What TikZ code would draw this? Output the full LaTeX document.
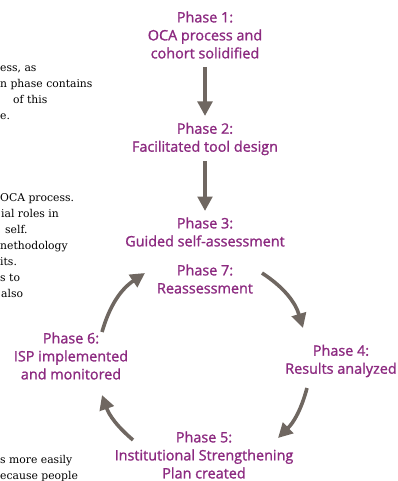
\documentclass[tikz,border=0pt]{standalone}
\usepackage{fontspec}
\setmainfont{Open Sans}
\newfontfamily\phasefont{Open Sans}[FakeBold=1.3]
\newfontfamily\bodyserif{DejaVu Serif}
\usetikzlibrary{arrows.meta}
\definecolor{phasecol}{HTML}{8C2A80}
\definecolor{arrowcol}{HTML}{6F6761}
\tikzset{
  phase/.style={text=phasecol, align=center, font=\phasefont\fontsize{14.4}{18}\selectfont, inner sep=0pt},
  body/.style={anchor=base west, inner sep=0pt, font=\bodyserif\fontsize{10.8}{16}\selectfont},
  arr/.style={draw=arrowcol, line width=3.6pt, -{Triangle[width=14.5pt,length=14.5pt]}}
}
\begin{document}
\begin{tikzpicture}[x=1pt,y=-1pt]
\useasboundingbox (0,0) rectangle (398,481);
% body text fragments
\node[body] (b1) at (0,72) {ess, as};
\node[body] (b2) at (0,88) {n phase contains};
\node[body] (b3) at (13,104) {of this};
\node[body] (b4) at (0,120) {e.};
\node[body] (b5) at (0,201) {OCA process.};
\node[body] (b6) at (1,217) {ial roles in};
\node[body] (b7) at (5,233) {self.};
\node[body] (b8) at (0,249) {nethodology};
\node[body] (b9) at (0,265) {its.};
\node[body] (b10) at (0,281) {s to};
\node[body] (b11) at (1,297) {also};
\node[body] (b12) at (0,463) {s more easily};
\node[body] (b13) at (0,479) {ecause people};
% phases
\node[phase] (p1) at (205,35) {Phase 1:\\OCA process and\\cohort solidified};
\node[phase] (p2) at (205,139) {Phase 2:\\Facilitated tool design};
\node[phase] (p3) at (205,232) {Phase 3:\\Guided self-assessment};
\node[phase] (p7) at (205,279) {Phase 7:\\Reassessment};
\node[phase] (p4) at (341,361) {Phase 4:\\Results analyzed};
\node[phase] (p5) at (204,455) {Phase 5:\\Institutional Strengthening\\Plan created};
\node[phase] (p6) at (71,356) {Phase 6:\\ISP implemented\\and monitored};
% arrow end points
\coordinate (a1s) at (205,67);
\coordinate (a1e) at (205,116);
\coordinate (a2s) at (205,161);
\coordinate (a2e) at (205,211);
\coordinate (a74s) at (262,273);
\coordinate (a74e) at (303,328);
\coordinate (a45s) at (307,388);
\coordinate (a45e) at (278,438);
\coordinate (a56s) at (133,440);
\coordinate (a56e) at (102,395);
\coordinate (a67s) at (102,332);
\coordinate (a67e) at (145,273);
% arrows
\draw[arr] (a1s) -- (a1e);
\draw[arr] (a2s) -- (a2e);
\draw[arr] (a74s) to[bend left=20] (a74e);
\draw[arr] (a45s) to[bend left=15] (a45e);
\draw[arr] (a56s) to[bend left=15] (a56e);
\draw[arr] (a67s) to[bend left=20] (a67e);
\end{tikzpicture}
\end{document}
